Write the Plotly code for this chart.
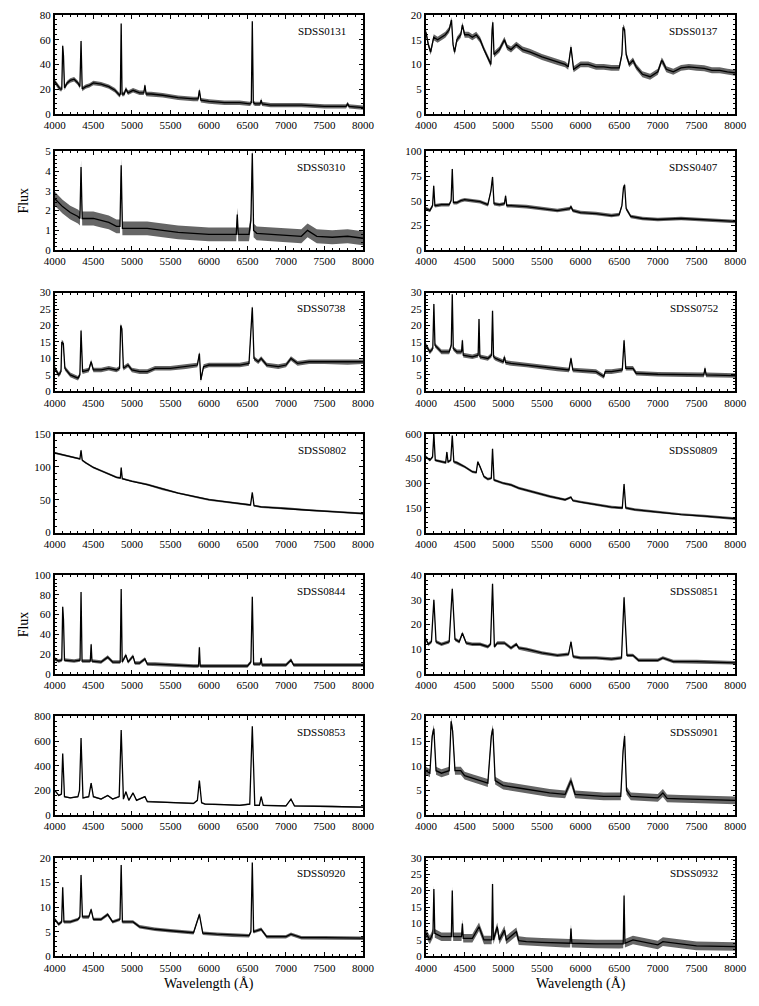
import plotly.graph_objects as go
from plotly.subplots import make_subplots

# ---------- data: (wavelength [A], flux) ----------
names = ["SDSS0131", "SDSS0137", "SDSS0310", "SDSS0407", "SDSS0738", "SDSS0752", "SDSS0802",
         "SDSS0809", "SDSS0844", "SDSS0851", "SDSS0853", "SDSS0901", "SDSS0920", "SDSS0932"]

sdss0131 = [(4000, 26), (4040, 22), (4070, 20), (4090, 20), (4102, 55), (4112, 47), (4125, 21), (4160, 25),
            (4200, 27), (4250, 28), (4300, 25), (4325, 22), (4340, 59), (4355, 20), (4400, 22), (4450, 23),
            (4500, 25), (4600, 24), (4700, 22), (4780, 19), (4840, 15), (4850, 16), (4861, 73), (4872, 16),
            (4900, 16), (4922, 20), (4950, 17), (5015, 19), (5100, 17), (5155, 17), (5169, 23), (5185, 16),
            (5250, 16), (5400, 15), (5600, 13), (5800, 12), (5860, 12), (5876, 19), (5895, 11), (6000, 10),
            (6200, 9), (6400, 9), (6530, 8), (6550, 9), (6563, 75), (6576, 9), (6600, 8), (6665, 8),
            (6678, 11), (6690, 8), (6800, 7), (7000, 7), (7200, 7), (7500, 6), (7780, 6), (7800, 8),
            (7820, 6), (8000, 5)]
sdss0137 = [(4000, 16.5), (4030, 14), (4060, 12.5), (4100, 15.5), (4150, 15), (4200, 15.5), (4250, 16),
            (4300, 17), (4330, 19), (4350, 14), (4370, 12.5), (4400, 15), (4450, 16), (4471, 18), (4500, 16),
            (4550, 16), (4600, 15.5), (4650, 16), (4700, 15), (4750, 13), (4800, 11.5), (4840, 10),
            (4855, 17), (4865, 18.5), (4880, 12), (4950, 13), (5015, 15), (5050, 13.5), (5100, 13),
            (5169, 14), (5250, 13), (5350, 12.5), (5500, 11.5), (5600, 11), (5700, 10.5), (5800, 10),
            (5840, 9.5), (5876, 13.5), (5910, 9), (6000, 10), (6100, 10), (6200, 9.5), (6300, 9.5),
            (6400, 9.3), (6500, 9.3), (6535, 12), (6550, 17.5), (6570, 17), (6590, 12), (6630, 10),
            (6678, 10.8), (6720, 9.5), (6800, 8), (6900, 7.5), (7000, 8.5), (7050, 10.8), (7065, 10.5),
            (7110, 9), (7200, 8.5), (7300, 9.3), (7400, 9.5), (7500, 9.3), (7600, 9.2), (7700, 8.8),
            (7800, 8.8), (7900, 8.5), (8000, 8.3)]
sdss0310 = [(4000, 2.6), (4050, 2.4), (4100, 2.2), (4200, 1.9), (4300, 1.7), (4325, 1.6), (4340, 4.2),
            (4355, 1.6), (4400, 1.6), (4500, 1.6), (4600, 1.5), (4700, 1.4), (4800, 1.2), (4845, 1.2),
            (4861, 4.3), (4877, 1.1), (4900, 1.1), (5000, 1.1), (5200, 1.1), (5400, 1.0), (5600, 0.9),
            (5800, 0.85), (6000, 0.8), (6200, 0.8), (6355, 0.8), (6368, 1.8), (6380, 0.8), (6520, 0.8),
            (6545, 1.5), (6563, 4.9), (6580, 1.0), (6620, 0.85), (6800, 0.8), (7000, 0.75), (7200, 0.7),
            (7280, 1.0), (7400, 0.7), (7600, 0.65), (7800, 0.7), (8000, 0.6)]
sdss0407 = [(4000, 42), (4050, 40), (4085, 45), (4100, 65), (4115, 45), (4200, 46), (4300, 46), (4325, 50),
            (4340, 82), (4355, 48), (4400, 48), (4450, 50), (4500, 51), (4600, 50), (4700, 49), (4800, 46),
            (4840, 60), (4861, 74), (4880, 47), (4950, 46), (5015, 47), (5030, 55), (5045, 45), (5100, 45),
            (5300, 44), (5500, 42), (5700, 40), (5860, 42), (5876, 44), (5900, 40), (6000, 38), (6200, 37),
            (6400, 35), (6500, 36), (6535, 45), (6555, 63), (6570, 66), (6590, 42), (6650, 34), (6800, 32),
            (7000, 31), (7300, 32), (7500, 31), (7700, 30), (8000, 29)]
sdss0738 = [(4000, 7), (4050, 5), (4080, 6), (4090, 15), (4110, 14.5), (4130, 7), (4200, 5), (4300, 4),
            (4325, 5), (4340, 18.5), (4360, 6), (4440, 6.5), (4471, 9), (4500, 6.5), (4600, 6.5), (4700, 7),
            (4800, 6.5), (4840, 7), (4855, 20), (4870, 19), (4890, 7), (4950, 8), (5000, 6.5), (5100, 6),
            (5200, 6), (5300, 7), (5500, 7), (5700, 7.5), (5850, 8), (5876, 11.5), (5895, 3.5), (5930, 7.5),
            (6000, 8), (6200, 8), (6400, 8), (6520, 8.5), (6550, 20), (6563, 25.5), (6585, 10), (6640, 9),
            (6678, 10), (6750, 8), (6900, 7.5), (7000, 8), (7065, 10), (7150, 8.5), (7300, 9), (7500, 9),
            (7800, 8.8), (8000, 9)]
sdss0752 = [(4000, 14), (4050, 12), (4088, 13), (4102, 26.5), (4116, 14), (4200, 12), (4300, 12), (4327, 14),
            (4340, 29.5), (4353, 13), (4400, 12), (4460, 12), (4471, 15.5), (4482, 11), (4600, 10.5),
            (4675, 11), (4686, 22), (4697, 10.5), (4800, 10), (4848, 11), (4861, 24.5), (4874, 10.5),
            (4900, 10), (5000, 9), (5015, 10.5), (5030, 8.8), (5100, 8.5), (5300, 8), (5500, 7.5), (5700, 6.8),
            (5850, 6.5), (5876, 10), (5900, 6.5), (6000, 6.3), (6200, 6), (6300, 4.5), (6320, 6), (6400, 6),
            (6540, 6.5), (6563, 15.5), (6585, 7), (6678, 7), (6720, 5.5), (7000, 5.2), (7300, 5), (7595, 5),
            (7610, 7), (7625, 5), (8000, 4.8)]
sdss0802 = [(4000, 121), (4100, 118), (4200, 116), (4300, 113), (4325, 112), (4340, 125), (4355, 110),
            (4400, 106), (4500, 99), (4600, 94), (4700, 89), (4800, 84), (4850, 83), (4861, 99), (4875, 82),
            (5000, 78), (5200, 73), (5400, 66), (5600, 60), (5800, 55), (5876, 53), (6000, 50), (6200, 47),
            (6400, 44), (6540, 42), (6563, 61), (6585, 41), (6678, 39), (7000, 37), (7300, 34), (7600, 32),
            (8000, 29)]
sdss0809 = [(4000, 460), (4050, 440), (4085, 460), (4102, 600), (4120, 440), (4200, 430), (4255, 425),
            (4270, 490), (4285, 430), (4320, 440), (4340, 590), (4360, 430), (4400, 425), (4500, 400),
            (4600, 370), (4650, 365), (4670, 430), (4700, 400), (4750, 340), (4800, 325), (4845, 330),
            (4861, 510), (4880, 320), (5000, 300), (5100, 290), (5200, 270), (5400, 245), (5600, 220),
            (5800, 200), (5876, 215), (5900, 195), (6000, 185), (6200, 170), (6400, 155), (6540, 150),
            (6563, 295), (6585, 150), (6700, 140), (7000, 125), (7300, 110), (7600, 100), (8000, 85)]
sdss0844 = [(4000, 15), (4050, 13), (4090, 14), (4102, 68), (4112, 55), (4125, 14), (4250, 13), (4327, 14),
            (4340, 83), (4353, 13), (4460, 13), (4471, 30), (4482, 13), (4600, 12), (4686, 17), (4750, 12),
            (4848, 12), (4861, 86), (4874, 12), (4922, 19), (4950, 12), (5015, 18), (5040, 11), (5100, 11),
            (5169, 15), (5200, 10), (5300, 10), (5500, 9), (5800, 8), (5865, 8), (5876, 27), (5887, 8),
            (6200, 8), (6500, 8), (6545, 12), (6563, 78), (6580, 10), (6665, 10), (6678, 16), (6690, 9),
            (7000, 9), (7065, 14), (7100, 9), (7500, 9), (8000, 9)]
sdss0851 = [(4000, 14), (4030, 12), (4070, 13), (4102, 30), (4130, 13), (4200, 12), (4300, 13), (4340, 34.5),
            (4375, 14), (4430, 13), (4471, 16.5), (4520, 12.5), (4600, 12), (4700, 12), (4800, 11), (4835, 12),
            (4861, 36.5), (4885, 11), (4922, 12.5), (5015, 12.5), (5100, 10.5), (5169, 12), (5200, 10.5),
            (5300, 10), (5500, 8.5), (5700, 7.5), (5845, 8), (5876, 13), (5905, 7), (6000, 6.5), (6200, 6.5),
            (6400, 6), (6530, 6.5), (6563, 31), (6600, 7.5), (6678, 7.5), (6750, 5.5), (7000, 5.5),
            (7065, 6.5), (7200, 5), (7500, 5), (8000, 4.5)]
sdss0853 = [(4000, 200), (4050, 160), (4085, 170), (4102, 500), (4125, 150), (4200, 140), (4300, 150),
            (4320, 200), (4340, 625), (4365, 140), (4440, 150), (4471, 260), (4500, 150), (4600, 130),
            (4686, 160), (4750, 130), (4835, 150), (4861, 690), (4890, 130), (4922, 190), (4960, 120),
            (5015, 180), (5060, 120), (5169, 150), (5200, 110), (5400, 105), (5600, 100), (5800, 95),
            (5850, 120), (5876, 280), (5905, 100), (5950, 90), (6200, 85), (6400, 80), (6530, 90), (6563, 720),
            (6595, 80), (6655, 80), (6678, 150), (6705, 80), (7000, 75), (7065, 130), (7110, 75), (7300, 75),
            (7600, 70), (8000, 65)]
sdss0901 = [(4000, 9), (4050, 8.5), (4080, 16), (4102, 17.5), (4130, 9), (4200, 8.5), (4300, 9), (4325, 19),
            (4345, 17), (4375, 9), (4450, 9), (4500, 8), (4600, 7.5), (4700, 7), (4800, 6.5), (4845, 16),
            (4865, 17.5), (4895, 7), (5000, 6), (5200, 5.5), (5400, 5), (5600, 4.5), (5800, 4.2), (5876, 7),
            (5930, 4.2), (6100, 4), (6300, 3.8), (6520, 3.8), (6550, 13), (6570, 16), (6595, 5), (6650, 3.8),
            (7000, 3.5), (7065, 4.5), (7120, 3.4), (7300, 3.3), (7600, 3.2), (8000, 3)]
sdss0920 = [(4000, 7.5), (4050, 6.5), (4088, 7), (4102, 14), (4118, 7), (4200, 7), (4300, 7.5), (4325, 8),
            (4340, 16.5), (4358, 8), (4440, 8), (4471, 9.5), (4500, 7.5), (4600, 7.5), (4686, 8.5), (4750, 7),
            (4845, 7.5), (4861, 18.5), (4877, 7), (4900, 7), (5015, 7), (5100, 6), (5300, 5.5), (5500, 5.2),
            (5800, 4.8), (5876, 8.5), (5920, 4.7), (6100, 4.5), (6300, 4.3), (6520, 4.2), (6545, 5), (6563, 19),
            (6580, 5), (6678, 5.5), (6750, 4), (7000, 4), (7065, 4.5), (7200, 3.8), (7500, 3.8), (8000, 3.7)]
sdss0932 = [(4000, 7), (4050, 5), (4090, 7), (4102, 20.5), (4114, 7), (4200, 6), (4300, 6), (4328, 6),
            (4340, 20), (4352, 6), (4460, 6), (4471, 10), (4482, 5.5), (4600, 5.5), (4686, 9), (4750, 5),
            (4850, 5), (4861, 22), (4872, 5), (4922, 9), (4950, 5), (5015, 8), (5040, 5), (5169, 7.5),
            (5200, 4.8), (5300, 4.5), (5500, 4.3), (5800, 4), (5865, 4), (5876, 8.5), (5887, 4), (6200, 3.8),
            (6500, 3.7), (6552, 3.8), (6563, 18.5), (6574, 4), (6678, 5), (7000, 3.5), (7065, 4.5), (7500, 3.2),
            (8000, 3)]

spectra = [sdss0131, sdss0137, sdss0310, sdss0407, sdss0738, sdss0752, sdss0802,
           sdss0809, sdss0844, sdss0851, sdss0853, sdss0901, sdss0920, sdss0932]

# half-width of the noise band seen in each panel
noise = [1.8, 0.6, 0.35, 1.8, 0.7, 0.7, 1.5, 8, 1.8, 0.7, 6, 0.8, 0.35, 1.3]

# y axis: top value and major tick step
y_max = [80, 20, 5, 100, 30, 30, 150, 600, 100, 40, 800, 20, 20, 30]
y_step = [20, 5, 1, 25, 5, 5, 50, 150, 20, 10, 200, 5, 5, 5]

x_ticks = [4000, 4500, 5000, 5500, 6000, 6500, 7000, 7500, 8000]

# ---------- layout, in window pixels ----------
# the page body has an 8px margin, so the figure itself is 16px smaller
PAD = 8
W, H = 759 - 2 * PAD, 1006 - 2 * PAD
col_px = [(45, 363), (428, 747)]
row_top_px = [9, 147, 290, 433, 576, 719, 862]
row_h = 100
FONT = "Liberation Serif"


def px_x(px):
    return (px - PAD) / W


def px_y(py):
    return 1 - (py - PAD) / H


fig = make_subplots(rows=7, cols=2)

for i, (spec, name) in enumerate(zip(spectra, names)):
    r, c = i // 2 + 1, i % 2 + 1
    wl = [p[0] for p in spec]
    fx = [p[1] for p in spec]
    up = [v + noise[i] for v in fx]
    lo = [v - noise[i] for v in fx]
    # noise band
    fig.add_trace(go.Scatter(x=wl + wl[::-1], y=up + lo[::-1], fill="toself",
                             fillcolor="rgba(0,0,0,0.6)", line=dict(width=0),
                             mode="lines", hoverinfo="skip", showlegend=False), row=r, col=c)
    fig.add_trace(go.Scatter(x=wl, y=fx, mode="lines", line=dict(color="black", width=1.3),
                             showlegend=False), row=r, col=c)

    fig.update_xaxes(range=[4000, 8000], tickvals=x_ticks, row=r, col=c)
    fig.update_yaxes(range=[0, y_max[i]], dtick=y_step[i], tick0=0, row=r, col=c,
                     minor=dict(dtick=y_step[i] / 5, ticks="inside", ticklen=2, tickcolor="black"))

    ax = fig.layout["xaxis" if i == 0 else f"xaxis{i + 1}"]
    ay = fig.layout["yaxis" if i == 0 else f"yaxis{i + 1}"]
    x0, x1 = col_px[c - 1]
    t = row_top_px[r - 1]
    ax.domain = [px_x(x0), px_x(x1)]
    ay.domain = [px_y(t + row_h), px_y(t)]

    xref = "x domain" if i == 0 else f"x{i + 1} domain"
    yref = "y domain" if i == 0 else f"y{i + 1} domain"
    fig.add_annotation(text=name, xref=xref, yref=yref, x=0.95, y=0.84,
                       xanchor="right", yanchor="middle", showarrow=False,
                       font=dict(family=FONT, size=11, color="black"))

axis_style = dict(showline=True, linewidth=2, linecolor="black", mirror="allticks",
                  ticks="inside", ticklen=4, tickwidth=1, tickcolor="black",
                  showgrid=False, zeroline=False,
                  tickfont=dict(family=FONT, size=11, color="black"))
fig.update_xaxes(**axis_style, minor=dict(dtick=100, ticks="inside", ticklen=2, tickcolor="black"))
fig.update_yaxes(**axis_style)

# axis titles
for yc in [row_top_px[1] + row_h / 2, row_top_px[4] + row_h / 2]:
    fig.add_annotation(text="Flux", xref="paper", yref="paper", x=px_x(13), y=px_y(yc),
                       textangle=-90, showarrow=False, xanchor="center", yanchor="middle",
                       font=dict(family=FONT, size=14, color="black"))
for x0, x1 in col_px:
    fig.add_annotation(text="Wavelength (Å)", xref="paper", yref="paper",
                       x=px_x((x0 + x1) / 2), y=px_y(990), showarrow=False,
                       xanchor="center", yanchor="middle",
                       font=dict(family=FONT, size=14, color="black"))

fig.update_layout(width=W, height=H, margin=dict(l=0, r=0, t=0, b=0),
                  plot_bgcolor="white", paper_bgcolor="white",
                  font=dict(family=FONT, color="black"))

fig.write_html("out.html")
